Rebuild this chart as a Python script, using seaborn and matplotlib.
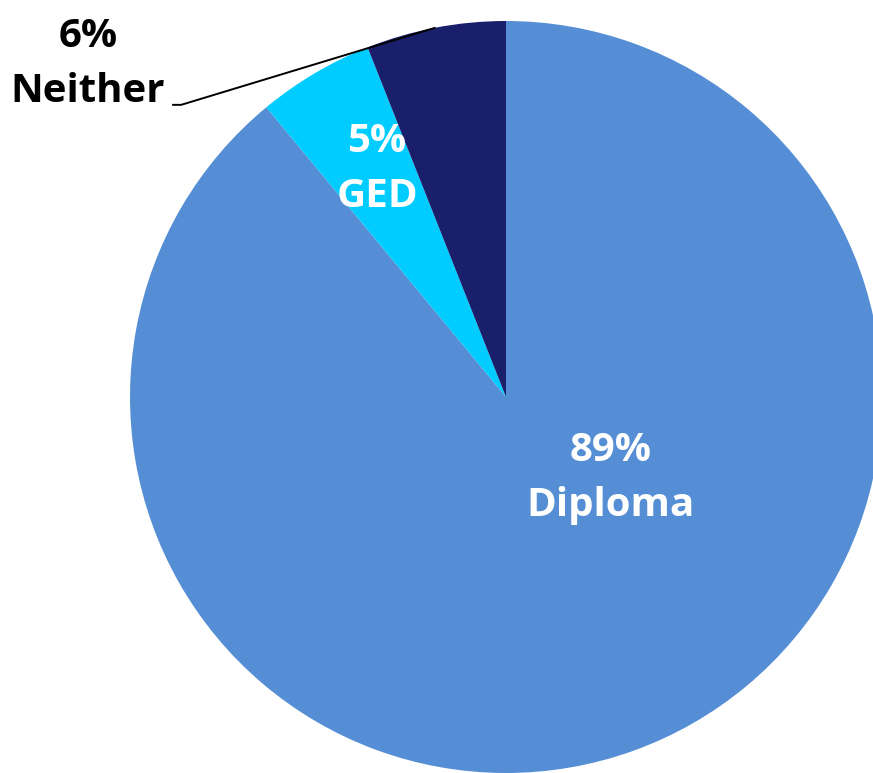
import numpy as np
import matplotlib
matplotlib.use("Agg")
import matplotlib.pyplot as plt
import seaborn as sns

# Share of respondents by high-school credential
categories = ["Diploma", "GED", "Neither"]
shares = [89, 5, 6]
colors = ["#558ED5", "#00CCFF", "#1A1F6C"]

sns.set_theme(style="white")
plt.rcParams["font.family"] = ["Open Sans", "DejaVu Sans"]

W, H, DPI = 873, 773, 100
fig = plt.figure(figsize=(W / DPI, H / DPI), dpi=DPI)
ax = fig.add_axes([0, 0, 1, 1])

# pie centre and radius in pixels, used to set the view
cx, cy, R = 506, 397, 376

wedges, _ = ax.pie(shares, colors=colors, startangle=90, counterclock=False,
                   radius=1.0, center=(0, 0), frame=True,
                   wedgeprops=dict(linewidth=0))
ax.set_xlim(-cx / R, (W - cx) / R)
ax.set_ylim(-(H - cy) / R, cy / R)
ax.set_aspect("equal")
ax.axis("off")

fs = 29
label_pos = {
    "Diploma": (0.277, -0.215),
    "GED": (-0.343, 0.607),
    "Neither": (-1.112, 0.886),
}
text_color = {"Diploma": "white", "GED": "white", "Neither": "black"}
for cat, val in zip(categories, shares):
    x, y = label_pos[cat]
    ax.text(x, y, f"{val}%\n{cat}", ha="center", va="center", fontsize=fs,
            fontweight="bold", color=text_color[cat], linespacing=1.55)

# leader line for the small outside label
w = wedges[categories.index("Neither")]
mid = np.deg2rad((w.theta1 + w.theta2) / 2)
ex, ey = np.cos(mid), np.sin(mid)
ax.plot([-0.888, -0.864, ex], [0.777, 0.777, ey], color="black", lw=1.4,
        solid_capstyle="butt", clip_on=False)

fig.savefig("out.png", dpi=DPI)
